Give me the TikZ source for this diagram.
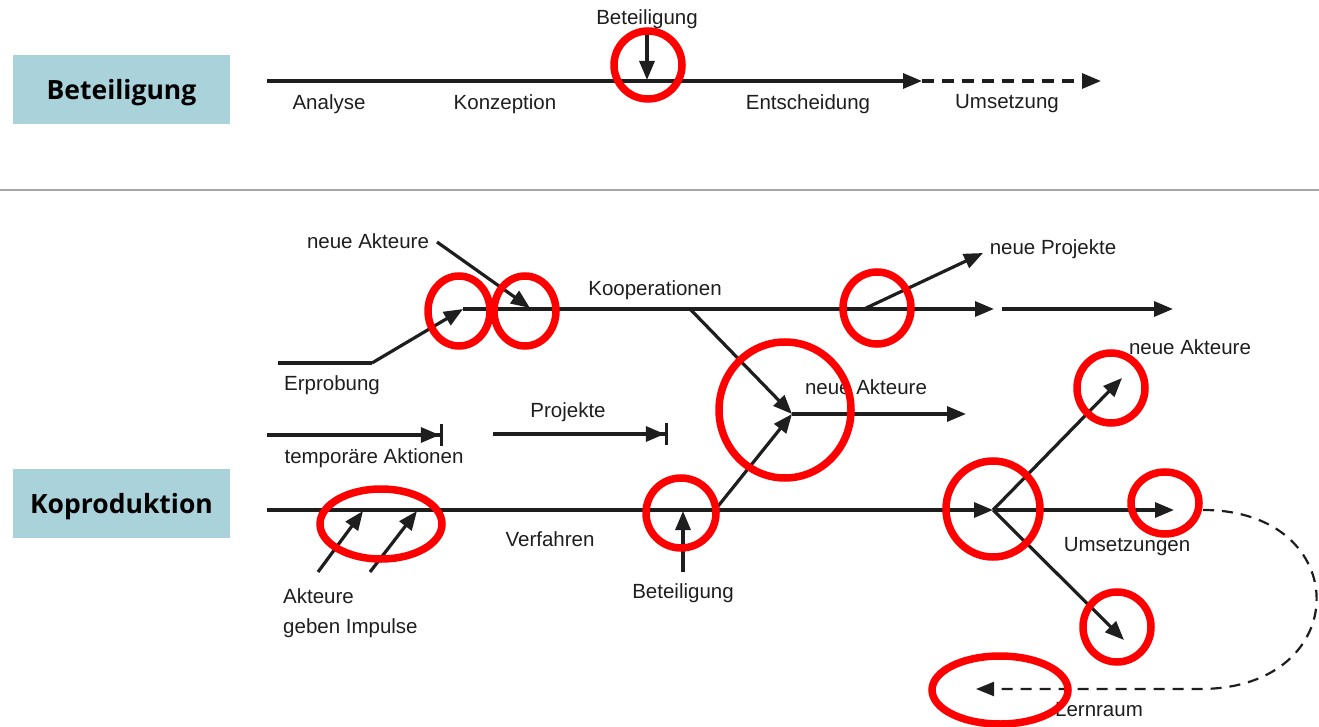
\documentclass[tikz,border=0pt]{standalone}
\usepackage{fontspec}
\setmainfont{Liberation Sans}
\newfontfamily\boxfont{Open Sans}
\usetikzlibrary{arrows.meta}
\definecolor{boxblue}{HTML}{A9D2DB}
\definecolor{ink}{HTML}{1E1E1E}
\tikzset{
  lbl/.style={font=\fontsize{20.5}{24}\selectfont, text=ink, inner sep=0pt},
  boxlbl/.style={font=\boxfont\bfseries\fontsize{26.5}{30}\selectfont, text=black, inner sep=0pt},
  line/.style={draw=ink, line width=3.2pt},
  arr/.style={line, -{Triangle[length=19pt,width=15pt]}},
  barend/.style={line, -{Triangle[length=19pt,width=15pt]Bar[width=22pt,length=3pt,sep=0pt]}},
  dasharr/.style={arr, dash pattern=on 12pt off 8pt},
  loopline/.style={draw=ink, line width=2.2pt, dash pattern=on 11pt off 8pt, -{Triangle[length=18pt,width=14pt]}},
  ring/.style={draw=red, line width=7.5pt},
}
\begin{document}
\begin{tikzpicture}[x=1pt,y=-1pt]
\useasboundingbox (0,0) rectangle (1319,727);
% boxes
\node[fill=boxblue, minimum width=217pt, minimum height=69pt, inner sep=0pt] (b1) at (121.5,89.5) {};
\node[boxlbl] (b1t) at (121.5,93) {Beteiligung};
\node[fill=boxblue, minimum width=217pt, minimum height=69pt, inner sep=0pt] (b2) at (121.5,503.5) {};
\node[boxlbl] (b2t) at (121.5,507) {Koproduktion};
% separator
\coordinate (s1) at (0,190); \coordinate (s2) at (1319,190);
\draw[draw=black!35, line width=2pt] (s1) -- (s2);

% ---------- top section
\coordinate (t0) at (267,81); \coordinate (t1) at (922,81); \coordinate (t2) at (1101,81);
\draw[arr] (t0) -- (t1);
\draw[dasharr] (t1) -- (t2);
\node[lbl] (tb) at (647,19) {Beteiligung};
\coordinate (tbs) at (647,33); \coordinate (tbe) at (647,80);
\draw[arr] (tbs) -- (tbe);
\node[lbl] (an) at (329,104) {Analyse};
\node[lbl] (ko) at (505,104) {Konzeption};
\node[lbl] (en) at (808,104) {Entscheidung};
\node[lbl] (um) at (1007,104) {Umsetzung};

% ---------- Kooperationen
\coordinate (e0) at (278,363); \coordinate (e1) at (372,363); \coordinate (k0) at (463,309);
\draw[line] (e0) -- (e1);
\draw[arr] (e1) -- (k0);
\coordinate (k1) at (994,309); \coordinate (k2) at (1002,309); \coordinate (k3) at (1173,309);
\draw[arr] (k0) -- (k1);
\draw[arr] (k2) -- (k3);
\coordinate (na0) at (437,242); \coordinate (na1) at (530,308);
\draw[arr] (na0) -- (na1);
\coordinate (np0) at (864,309); \coordinate (np1) at (983,253);
\draw[arr] (np0) -- (np1);
\node[lbl] (nak1) at (368,241) {neue Akteure};
\node[lbl] (koop) at (655,290) {Kooperationen};
\node[lbl] (nproj) at (1053,249) {neue Projekte};
\node[lbl] (erp) at (332,385) {Erprobung};

% ---------- middle
\coordinate (ta0) at (267,435); \coordinate (ta1) at (443,435);
\draw[barend] (ta0) -- (ta1);
\coordinate (pr0) at (493,434); \coordinate (pr1) at (668,434);
\draw[barend] (pr0) -- (pr1);
\node[lbl] (proj) at (568,412) {Projekte};
\node[lbl] (temp) at (374,458) {temporäre Aktionen};

\coordinate (j1) at (792,414);
\coordinate (kd) at (690,309);
\draw[arr] (kd) -- (j1);
\coordinate (vd) at (715,510);
\draw[arr] (vd) -- (j1);
\coordinate (j1e) at (966,414);
\draw[arr] (j1) -- (j1e);
\node[lbl] (nak2) at (866,387) {neue Akteure};

% ---------- Verfahren
\coordinate (v0) at (267,510); \coordinate (j2) at (993,510);
\draw[arr] (v0) -- (j2);
\coordinate (v2) at (1174,510);
\draw[arr] (j2) -- (v2);
\coordinate (ju) at (1122,378); \coordinate (jd) at (1124,640);
\draw[arr] (j2) -- (ju);
\draw[arr] (j2) -- (jd);
\coordinate (im1a) at (318,572); \coordinate (im1b) at (363,511);
\coordinate (im2a) at (370,572); \coordinate (im2b) at (417,511);
\draw[arr] (im1a) -- (im1b);
\draw[arr] (im2a) -- (im2b);
\coordinate (bb0) at (683,572); \coordinate (bb1) at (683,511);
\draw[arr] (bb0) -- (bb1);
\node[lbl] (verf) at (550,539) {Verfahren};
\node[lbl] (bet2) at (683,593) {Beteiligung};
\node[lbl, anchor=west] (akt) at (283,596) {Akteure};
\node[lbl, anchor=west] (geb) at (283,628) {geben Impulse};
\node[lbl] (nak3) at (1190,347) {neue Akteure};
\node[lbl] (ums) at (1127,547) {Umsetzungen};
\node[lbl] (lern) at (1099,710) {Lernraum};

% dashed loop
\coordinate (l0) at (1203,510); \coordinate (l1) at (1200,689); \coordinate (l2) at (976,689);
\draw[loopline] (l0) .. controls (1355,510) and (1355,689) .. (l1) -- (l2);

% ---------- red rings
\draw[ring] (648,65) ellipse [x radius=34, y radius=34];
\draw[ring] (459,311) ellipse [x radius=31, y radius=35];
\draw[ring] (525,311) ellipse [x radius=31, y radius=35];
\draw[ring] (877,308) ellipse [x radius=34, y radius=36];
\draw[ring] (785,410) ellipse [x radius=66, y radius=68];
\draw[ring] (1111,388) ellipse [x radius=34, y radius=35];
\draw[ring] (381,524) ellipse [x radius=61, y radius=35];
\draw[ring] (681,513) ellipse [x radius=35, y radius=35];
\draw[ring] (993,509) ellipse [x radius=47, y radius=48];
\draw[ring] (1165,503) ellipse [x radius=34, y radius=31];
\draw[ring] (1117,627) ellipse [x radius=34, y radius=35];
\draw[ring] (1000,690) ellipse [x radius=68, y radius=34];
\end{tikzpicture}
\end{document}
